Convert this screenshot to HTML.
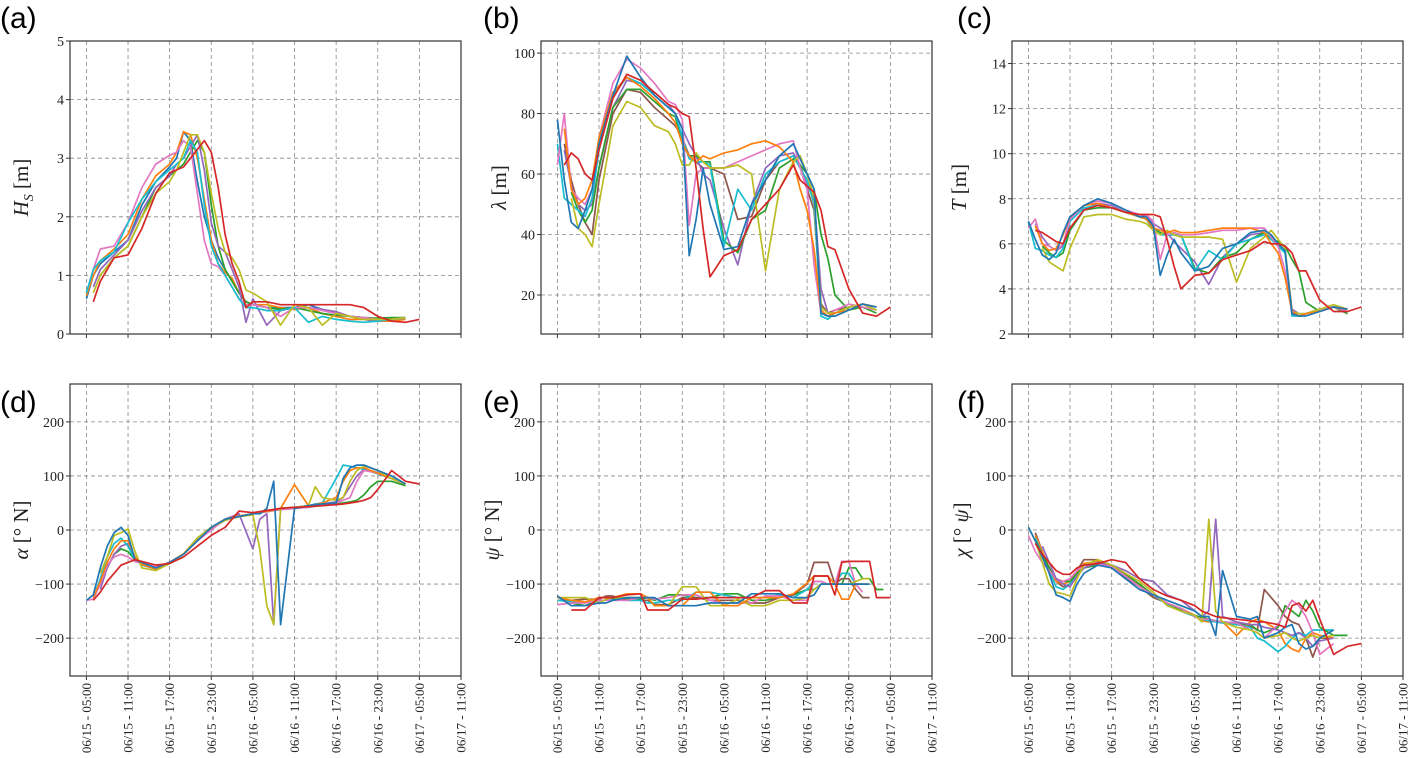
<!DOCTYPE html>
<html><head><meta charset="utf-8"><style>
html,body{margin:0;padding:0;background:#fff;}
svg{display:block;}
</style></head>
<body>
<svg id="fig" width="1410" height="758" xmlns="http://www.w3.org/2000/svg"></svg>
<script>
const xTickLabels = ["06/15 - 05:00","06/15 - 11:00","06/15 - 17:00","06/15 - 23:00","06/16 - 05:00","06/16 - 11:00","06/16 - 17:00","06/16 - 23:00","06/17 - 05:00","06/17 - 11:00"];
const seriesColors = {blue:"#1f77b4",orange:"#ff7f0e",green:"#2ca02c",red:"#d62728",purple:"#9467bd",brown:"#8c564b",pink:"#e377c2",gray:"#7f7f7f",olive:"#bcbd22",cyan:"#17becf"};

// Panel (a) Hs
const aTimes = [0,1,2,4,6,8,10,12,13,14,15,16,17,18,19,20,21,22,23,24,26,28,30,32,34,36,38,40,42,44,46,48];
const aBlue = [0.6,1.0,1.2,1.4,1.6,2.2,2.6,2.85,3.0,3.45,3.3,2.6,2.0,1.6,1.3,1.1,0.9,0.7,0.55,0.5,0.45,0.45,0.45,0.5,0.42,0.35,0.3,0.28,0.25,0.25,0.28,null];
const aOrange = [0.65,1.0,1.25,1.45,1.7,2.3,2.7,2.9,3.1,3.45,3.4,3.0,2.3,1.6,1.2,1.05,0.95,0.7,0.55,0.5,0.5,0.45,0.42,0.45,0.35,0.3,0.25,0.25,0.22,0.22,0.25,null];
const aOlive = [null,0.7,1.0,1.3,1.5,2.0,2.4,2.6,2.8,3.1,3.4,3.4,3.1,2.4,1.8,1.4,1.3,1.1,0.75,0.7,0.55,0.15,0.5,0.45,0.15,0.35,0.3,0.25,0.25,0.25,0.28,null];
const aRed = [null,0.55,0.9,1.3,1.35,1.8,2.4,2.75,2.8,2.85,3.0,3.15,3.3,3.1,2.5,1.7,1.2,0.9,0.45,0.55,0.55,0.5,0.5,0.5,0.5,0.5,0.5,0.45,0.3,0.22,0.2,0.25];
const aCyan = [0.7,1.1,1.25,1.4,1.9,2.3,2.6,2.8,2.9,3.0,3.3,3.1,2.2,1.5,1.2,1.0,0.8,0.6,0.45,0.45,0.4,0.4,0.45,0.2,0.3,0.25,0.22,0.2,0.22,0.25,0.27,null];
const aPurple = [null,0.8,1.1,1.35,1.6,2.1,2.5,2.7,2.9,3.0,3.2,3.4,2.8,1.9,1.5,1.4,1.1,0.8,0.2,0.6,0.15,0.4,0.45,0.45,0.42,0.38,0.3,0.25,0.22,0.25,0.28,null];
const aGreen = [null,null,1.0,1.3,1.5,2.0,2.5,2.7,2.8,2.9,3.1,3.3,3.1,2.2,1.5,1.1,0.9,0.7,0.55,0.5,0.45,0.42,0.45,0.4,0.35,0.32,0.3,0.28,0.27,0.28,0.28,null];
const aPink = [0.7,1.1,1.45,1.5,1.9,2.5,2.9,3.05,3.1,3.3,3.2,2.4,1.6,1.2,1.15,1.0,0.8,0.6,0.5,0.5,0.45,0.3,0.45,0.45,0.4,0.35,0.3,0.28,0.25,0.25,0.28,null];

// Panel (b) lambda
const bTimes = [0,1,2,3,4,5,6,8,10,12,14,16,17,18,19,20,21,22,24,26,28,30,32,34,35,36,37,38,39,40,42,44,46,48];
const bBlue = [78,58,44,42,48,55,70,86,99,92,86,82,80,75,33,45,62,50,35,36,50,58,66,70,65,60,55,14,13,13,15,17,16,null];
const bOrange = [null,75,55,50,52,58,72,87,92,89,85,80,77,70,66,64,66,65,67,68,70,71,69,64,55,48,35,15,13,14,15,17,16,null];
const bRed = [null,63,67,65,60,58,68,85,93,91,87,83,82,80,79,62,42,26,33,35,45,50,55,63,58,56,54,48,36,35,22,14,13,16];
const bOlive = [null,null,52,42,40,36,50,76,84,82,76,74,70,63,63,67,64,62,62,63,60,28,55,64,66,60,52,16,14,14,16,17,15,null];
const bPink = [63,80,55,52,50,55,72,90,98,95,90,84,83,78,43,60,62,62,62,64,66,68,70,71,62,55,30,14,13,15,17,16,15,null];
const bCyan = [70,52,50,48,46,52,68,86,92,90,86,82,80,72,65,64,64,63,36,55,48,60,64,66,62,58,50,13,12,14,16,17,15,null];
const bGreen = [null,null,54,48,44,48,62,82,88,88,84,80,79,70,66,66,64,64,38,34,45,48,62,65,63,60,55,40,32,20,15,16,14,null];
const bPurple = [null,68,56,50,48,50,62,82,91,90,87,83,80,75,70,66,60,58,42,30,50,62,66,67,63,56,52,22,14,14,16,17,16,null];
const bBrown = [null,70,58,50,44,40,58,80,88,87,82,78,76,72,66,64,62,62,60,45,46,58,64,66,62,55,48,17,14,15,16,17,16,null];

// Panel (c) T
const cTimes = [0,1,2,3,4,5,6,8,10,12,14,16,17,18,19,20,21,22,24,26,28,30,32,34,35,36,37,38,39,40,42,44,46,48];
const cBlue = [7.0,6.2,5.5,5.3,5.6,6.5,7.2,7.7,8.0,7.8,7.5,7.2,7.2,6.8,4.6,5.5,6.2,5.6,4.8,5.0,5.8,6.0,6.5,6.6,6.4,6.0,5.7,2.9,2.8,2.8,3.0,3.2,3.1,null];
const cOrange = [null,6.8,6.0,5.7,5.8,6.4,7.2,7.7,7.8,7.6,7.4,7.2,7.1,6.7,6.6,6.5,6.6,6.5,6.5,6.6,6.7,6.7,6.7,6.5,6.0,5.6,4.5,3.0,2.8,2.9,3.0,3.2,3.1,null];
const cRed = [null,6.6,6.5,6.3,6.1,6.0,6.7,7.5,7.7,7.6,7.4,7.3,7.3,7.3,7.2,6.2,5.0,4.0,4.6,4.7,5.3,5.5,5.7,6.1,6.0,6.0,5.9,5.6,4.8,4.8,3.5,3.0,3.0,3.2];
const cOlive = [null,null,5.8,5.2,5.0,4.8,5.8,7.2,7.3,7.3,7.1,7.0,6.9,6.6,6.4,6.6,6.4,6.3,6.3,6.3,6.2,4.3,5.8,6.3,6.6,6.2,5.8,3.0,2.9,2.9,3.1,3.3,3.1,null];
const cPink = [6.7,7.1,6.0,5.9,5.7,6.0,7.1,7.7,7.9,7.8,7.5,7.3,7.3,7.0,5.3,6.4,6.5,6.4,6.4,6.5,6.6,6.6,6.7,6.7,6.3,5.9,4.8,2.9,2.8,2.9,3.1,3.2,3.0,null];
const cCyan = [7.0,5.8,5.7,5.5,5.4,5.8,7.0,7.6,7.7,7.6,7.4,7.2,7.1,6.6,6.4,6.4,6.4,6.4,4.8,5.7,5.3,6.0,6.2,6.4,6.2,5.9,5.6,2.8,2.8,2.9,3.1,3.2,3.1,null];
const cGreen = [null,null,5.9,5.6,5.4,5.6,6.6,7.5,7.6,7.6,7.4,7.2,7.1,6.7,6.5,6.4,6.4,6.4,4.9,4.7,5.4,5.6,6.2,6.5,6.2,6.1,5.9,5.3,4.8,3.4,3.0,3.2,2.9,null];
const cPurple = [null,6.9,6.3,5.9,5.7,5.9,6.6,7.5,7.8,7.7,7.4,7.3,7.2,6.9,6.7,6.5,6.1,5.8,5.2,4.2,5.4,6.0,6.4,6.5,6.2,5.9,5.6,3.1,2.9,2.9,3.1,3.2,3.1,null];

// Panel (d) alpha
const dTimes = [0,1,2,3,4,5,6,7,8,10,12,14,16,18,20,22,24,25,26,27,28,30,32,33,34,36,37,38,39,40,41,42,44,46,48];
const dBlue = [-130,-120,-70,-30,-5,5,-10,-55,-60,-70,-60,-45,-20,5,20,25,30,30,40,90,-175,40,45,47,48,50,95,115,120,120,115,110,100,85,null];
const dOlive = [null,null,-80,-50,-10,-5,2,-40,-70,-75,-62,-45,-15,5,18,25,28,-35,-140,-175,40,42,45,80,60,55,60,90,110,118,115,110,95,85,null];
const dRed = [null,-130,-115,-95,-80,-65,-60,-55,-58,-65,-62,-50,-30,-10,5,35,32,34,36,38,40,42,43,44,45,47,48,50,52,55,60,75,110,90,85];
const dPink = [-130,-128,-100,-65,-50,-45,-50,-58,-62,-68,-60,-45,-20,0,20,25,30,32,34,36,38,40,42,44,46,50,55,60,90,110,108,105,95,85,null];
const dCyan = [null,-128,-90,-50,-25,-15,-30,-55,-65,-72,-62,-45,-15,5,20,25,30,33,36,38,40,42,45,48,50,95,120,118,115,112,108,104,95,85,null];
const dPurple = [null,null,-110,-70,-45,-30,-25,-50,-65,-72,-60,-45,-18,5,20,30,-35,20,30,-175,40,42,45,47,48,52,60,80,100,112,110,106,95,85,null];
const dGreen = [null,null,-100,-70,-45,-35,-40,-55,-63,-70,-60,-45,-18,3,18,25,30,32,34,36,38,40,42,44,45,48,50,52,55,65,80,90,90,82,null];
const dOrange = [null,-125,-95,-60,-35,-20,-20,-50,-64,-72,-60,-44,-15,5,20,26,30,33,35,37,40,84,45,47,50,60,90,110,115,115,110,105,95,85,null];

// Panel (e) psi
const eTimes = [0,2,4,6,7,8,10,12,13,14,16,18,20,22,24,26,28,30,32,34,36,37,38,39,40,41,42,43,44,45,46,47,48];
const eRed = [null,-148,-148,-125,-125,-125,-120,-118,-148,-148,-148,-128,-128,-125,-125,-125,-125,-112,-112,-135,-135,-85,-85,-85,-120,-60,-58,-58,-58,-58,-125,-125,-125];
const eBlue = [-122,-140,-140,-135,-135,-130,-125,-125,-125,-125,-140,-140,-140,-135,-135,-135,-118,-118,-118,-125,-125,-120,-100,-100,-100,-100,-100,-100,-100,-100,null,null,null];
const eOrange = [-125,-130,-133,-125,-125,-125,-118,-118,-125,-140,-140,-140,-115,-115,-140,-140,-125,-125,-125,-118,-98,-85,-85,-85,-100,-128,-128,-100,-100,-100,null,null,null];
const eOlive = [-125,-125,-125,-135,-128,-125,-125,-125,-125,-140,-140,-105,-105,-140,-140,-128,-140,-140,-130,-130,-125,-110,-100,-100,-100,-100,-100,-95,-90,-90,null,null,null];
const ePink = [-138,-135,-135,-130,-130,-130,-130,-125,-125,-128,-125,-120,-120,-130,-135,-135,-135,-122,-122,-130,-130,-95,-95,-100,-100,-58,-58,-100,-115,null,null,null,null];
const eCyan = [-130,-133,-133,-125,-125,-130,-130,-130,-135,-135,-130,-130,-115,-115,-120,-125,-125,-125,-120,-125,-110,-95,-95,-100,-100,-80,-80,-100,-100,null,null,null,null];
const eBrown = [-130,-130,-128,-128,-122,-122,-130,-130,-130,-138,-138,-125,-125,-130,-130,-130,-135,-135,-125,-120,-100,-60,-60,-60,-100,-90,-90,-110,-125,-125,null,null,null];
const eGreen = [null,-135,-140,-130,-130,-128,-128,-128,-125,-130,-120,-120,-125,-125,-118,-118,-130,-130,-125,-120,-110,-110,-100,-100,-100,-100,-70,-70,-90,-90,-110,-110,null];

// Panel (f) chi
const fTimes = [0,1,2,3,4,5,6,7,8,10,12,14,16,18,20,22,24,25,26,27,28,30,32,33,34,36,37,38,39,40,41,42,44,46,48];
const fBlue = [5,-20,-50,-80,-120,-125,-132,-100,-80,-65,-70,-90,-110,-120,-130,-140,-150,-160,-160,-195,-75,-160,-165,-160,-200,-190,-180,-175,-210,-220,-215,-200,-185,null,null];
const fOlive = [5,-20,-60,-100,-115,-118,-122,-90,-65,-55,-65,-80,-95,-115,-140,-150,-158,-170,20,-150,-170,-180,-185,-190,-200,-195,-190,-200,-205,-200,-195,-200,-195,null,null];
const fRed = [null,-25,-45,-60,-75,-82,-82,-70,-65,-62,-55,-60,-90,-110,-122,-130,-140,-150,-155,-160,-162,-165,-168,-170,-170,-175,-180,-140,-135,-150,-130,-165,-230,-215,-210];
const fPurple = [null,null,-30,-60,-90,-100,-105,-85,-70,-60,-65,-75,-90,-95,-120,-130,-150,-160,-150,20,-160,-170,-175,-175,-180,-185,-190,-195,-190,-200,-215,-205,-200,null,null];
const fPink = [-10,-40,-60,-75,-90,-95,-90,-75,-65,-62,-68,-85,-105,-120,-135,-145,-160,-165,-165,-168,-170,-172,-185,-190,-200,-175,-150,-130,-140,-160,-190,-230,-210,null,null];
const fGreen = [null,-20,-45,-70,-90,-95,-95,-80,-70,-65,-68,-82,-100,-120,-135,-148,-158,-162,-165,-168,-170,-172,-175,-185,-190,-180,-140,-150,-160,-130,-150,-180,-195,-195,null];
const fCyan = [null,-15,-45,-75,-105,-110,-100,-85,-70,-62,-66,-85,-105,-120,-138,-150,-160,-165,-168,-170,-172,-175,-180,-200,-205,-225,-215,-200,-190,-195,-185,-185,-185,null,null];
const fBrown = [null,-5,-40,-70,-95,-105,-100,-75,-55,-55,-70,-88,-105,-125,-135,-150,-160,-162,-165,-168,-170,-173,-178,-185,-110,-140,-160,-170,-175,-200,-235,-200,-200,null,null];
const fOrange = [null,-10,-40,-70,-95,-100,-95,-78,-62,-58,-66,-84,-102,-120,-135,-145,-158,-168,-170,-168,-170,-195,-170,-165,-170,-185,-210,-220,-225,-200,-190,-195,-200,null,null];

const NS = "http://www.w3.org/2000/svg";
const svg = document.getElementById('fig');
function mk(tag, attrs, parent){const e=document.createElementNS(NS,tag);for(const k in attrs)e.setAttribute(k,attrs[k]);(parent||svg).appendChild(e);return e;}

function panel(cfg){
  const g = mk('g',{});
  
  
  const x0=cfg.x0,x1=cfg.x1,y0=cfg.y0,y1=cfg.y1;
  const off=16.4, step=(x1-x0-off)/9;
  const xs = h => x0 + off + h/6*step;
  const ys = v => y1 - (v-cfg.ymin)/(cfg.ymax-cfg.ymin)*(y1-y0);
  for(let i=0;i<10;i++){
    const x=x0+off+i*step;
    const l=mk('line',{x1:x,y1:y0,x2:x,y2:y1,stroke:"#888","stroke-width":0.8,"stroke-dasharray":"4,3"},g);
    
    
    mk('line',{x1:x,y1:y1,x2:x,y2:y1+4,stroke:"#333","stroke-width":1},g);
    if(cfg.xlabels){
      const t=mk('text',{x:0,y:0,transform:`translate(${x+4.5},683) rotate(-90)`,"text-anchor":"end","font-family":"Liberation Serif, serif","font-size":"13",fill:"#222"},g);
      t.textContent=xTickLabels[i];
      
      
    }
  }
  cfg.yticks.forEach(v=>{
    const y=ys(v);
    const l=mk('line',{x1:x0,y1:y,x2:x1,y2:y,stroke:"#888","stroke-width":0.8,"stroke-dasharray":"4,3"},g);
    
    
    mk('line',{x1:x0-4,y1:y,x2:x0,y2:y,stroke:"#333","stroke-width":1},g);
    const t=mk('text',{x:x0-6,y:y+5,"text-anchor":"end","font-family":"Liberation Serif, serif","font-size":"14",fill:"#222"},g);
    t.textContent=(v<0?"\u2212"+(-v):String(v));
    
    
  });
  const clipId='clip'+cfg.letter;
  const cp=mk('clipPath',{id:clipId},g);
  mk('rect',{x:x0,y:y0,width:x1-x0,height:y1-y0},cp);
  const sg=mk('g',{"clip-path":`url(#${clipId})`},g);
  cfg.series.forEach(s=>{
    const n=Math.min(s.vals.length,cfg.times.length);
    let segs=[],cur=[];
    for(let i=0;i<n;i++){
      const v=s.vals[i];
      if(v===null||v===undefined){if(cur.length)segs.push(cur);cur=[];continue;}
      cur.push(xs(cfg.times[i]).toFixed(1)+","+ys(v).toFixed(1));
    }
    if(cur.length)segs.push(cur);
    segs.forEach(sg2=>{
      const p=mk('polyline',{points:sg2.join(" "),fill:"none",stroke:seriesColors[s.c],"stroke-width":1.7,"stroke-linejoin":"round"},sg);
      
      
    });
  });
  const fr=mk('rect',{x:x0,y:y0,width:x1-x0,height:y1-y0,fill:"none",stroke:"#333","stroke-width":1.2},g);
  
  
  const yl=mk('text',{x:0,y:0,transform:`translate(${cfg.ylx},${(y0+y1)/2}) rotate(-90)`,"text-anchor":"middle","font-family":"Liberation Serif, serif","font-size":"21",fill:"#222"},g);
  yl.innerHTML=cfg.ylabel;
  
  
  const lt=mk('text',{x:cfg.lx,y:cfg.ly,"font-family":"Liberation Sans, sans-serif","font-size":"30",fill:"#000"},g);
  lt.textContent="("+cfg.letter+")";
  
  
}

const S=(c,vals)=>({c,vals});
panel({letter:"a",x0:70,x1:461,y0:41,y1:334,ymin:0,ymax:5,yticks:[0,1,2,3,4,5],times:aTimes,xlabels:false,ylx:28,lx:0,ly:28,
  ylabel:'<tspan font-style="italic">H</tspan><tspan font-size="14" dy="5" font-style="italic">S</tspan><tspan dy="-5"> [m]</tspan>',
  series:[S("blue",aBlue),S("orange",aOrange),S("green",aGreen),S("purple",aPurple),S("pink",aPink),S("cyan",aCyan),S("olive",aOlive),S("red",aRed)]});
panel({letter:"b",x0:541,x1:932,y0:41,y1:334,ymin:7.1,ymax:104,yticks:[20,40,60,80,100],times:bTimes,xlabels:false,ylx:506,lx:483,ly:28,
  ylabel:'<tspan font-style="italic">λ</tspan> [m]',
  series:[S("brown",bBrown),S("purple",bPurple),S("green",bGreen),S("cyan",bCyan),S("pink",bPink),S("olive",bOlive),S("orange",bOrange),S("blue",bBlue),S("red",bRed)]});
panel({letter:"c",x0:1012,x1:1403,y0:41,y1:334,ymin:2,ymax:15,yticks:[2,4,6,8,10,12,14],times:cTimes,xlabels:false,ylx:966,lx:957,ly:28,
  ylabel:'<tspan font-style="italic">T</tspan> [m]',
  series:[S("purple",cPurple),S("green",cGreen),S("cyan",cCyan),S("pink",cPink),S("olive",cOlive),S("orange",cOrange),S("blue",cBlue),S("red",cRed)]});
panel({letter:"d",x0:70,x1:461,y0:384,y1:676,ymin:-270,ymax:270,yticks:[-200,-100,0,100,200],times:dTimes,xlabels:true,ylx:28,lx:0,ly:412,
  ylabel:'<tspan font-style="italic">α</tspan> [° N]',
  series:[S("green",dGreen),S("purple",dPurple),S("cyan",dCyan),S("pink",dPink),S("orange",dOrange),S("olive",dOlive),S("blue",dBlue),S("red",dRed)]});
panel({letter:"e",x0:541,x1:932,y0:384,y1:676,ymin:-270,ymax:270,yticks:[-200,-100,0,100,200],times:eTimes,xlabels:true,ylx:499,lx:483,ly:412,
  ylabel:'<tspan font-style="italic">ψ</tspan> [° N]',
  series:[S("green",eGreen),S("brown",eBrown),S("cyan",eCyan),S("pink",ePink),S("olive",eOlive),S("orange",eOrange),S("blue",eBlue),S("red",eRed)]});
panel({letter:"f",x0:1012,x1:1403,y0:384,y1:676,ymin:-270,ymax:270,yticks:[-200,-100,0,100,200],times:fTimes,xlabels:true,ylx:968,lx:957,ly:412,
  ylabel:'<tspan font-style="italic">χ</tspan> [° <tspan font-style="italic">ψ</tspan>]',
  series:[S("brown",fBrown),S("orange",fOrange),S("cyan",fCyan),S("green",fGreen),S("pink",fPink),S("purple",fPurple),S("olive",fOlive),S("blue",fBlue),S("red",fRed)]});
</script>
</body></html>
